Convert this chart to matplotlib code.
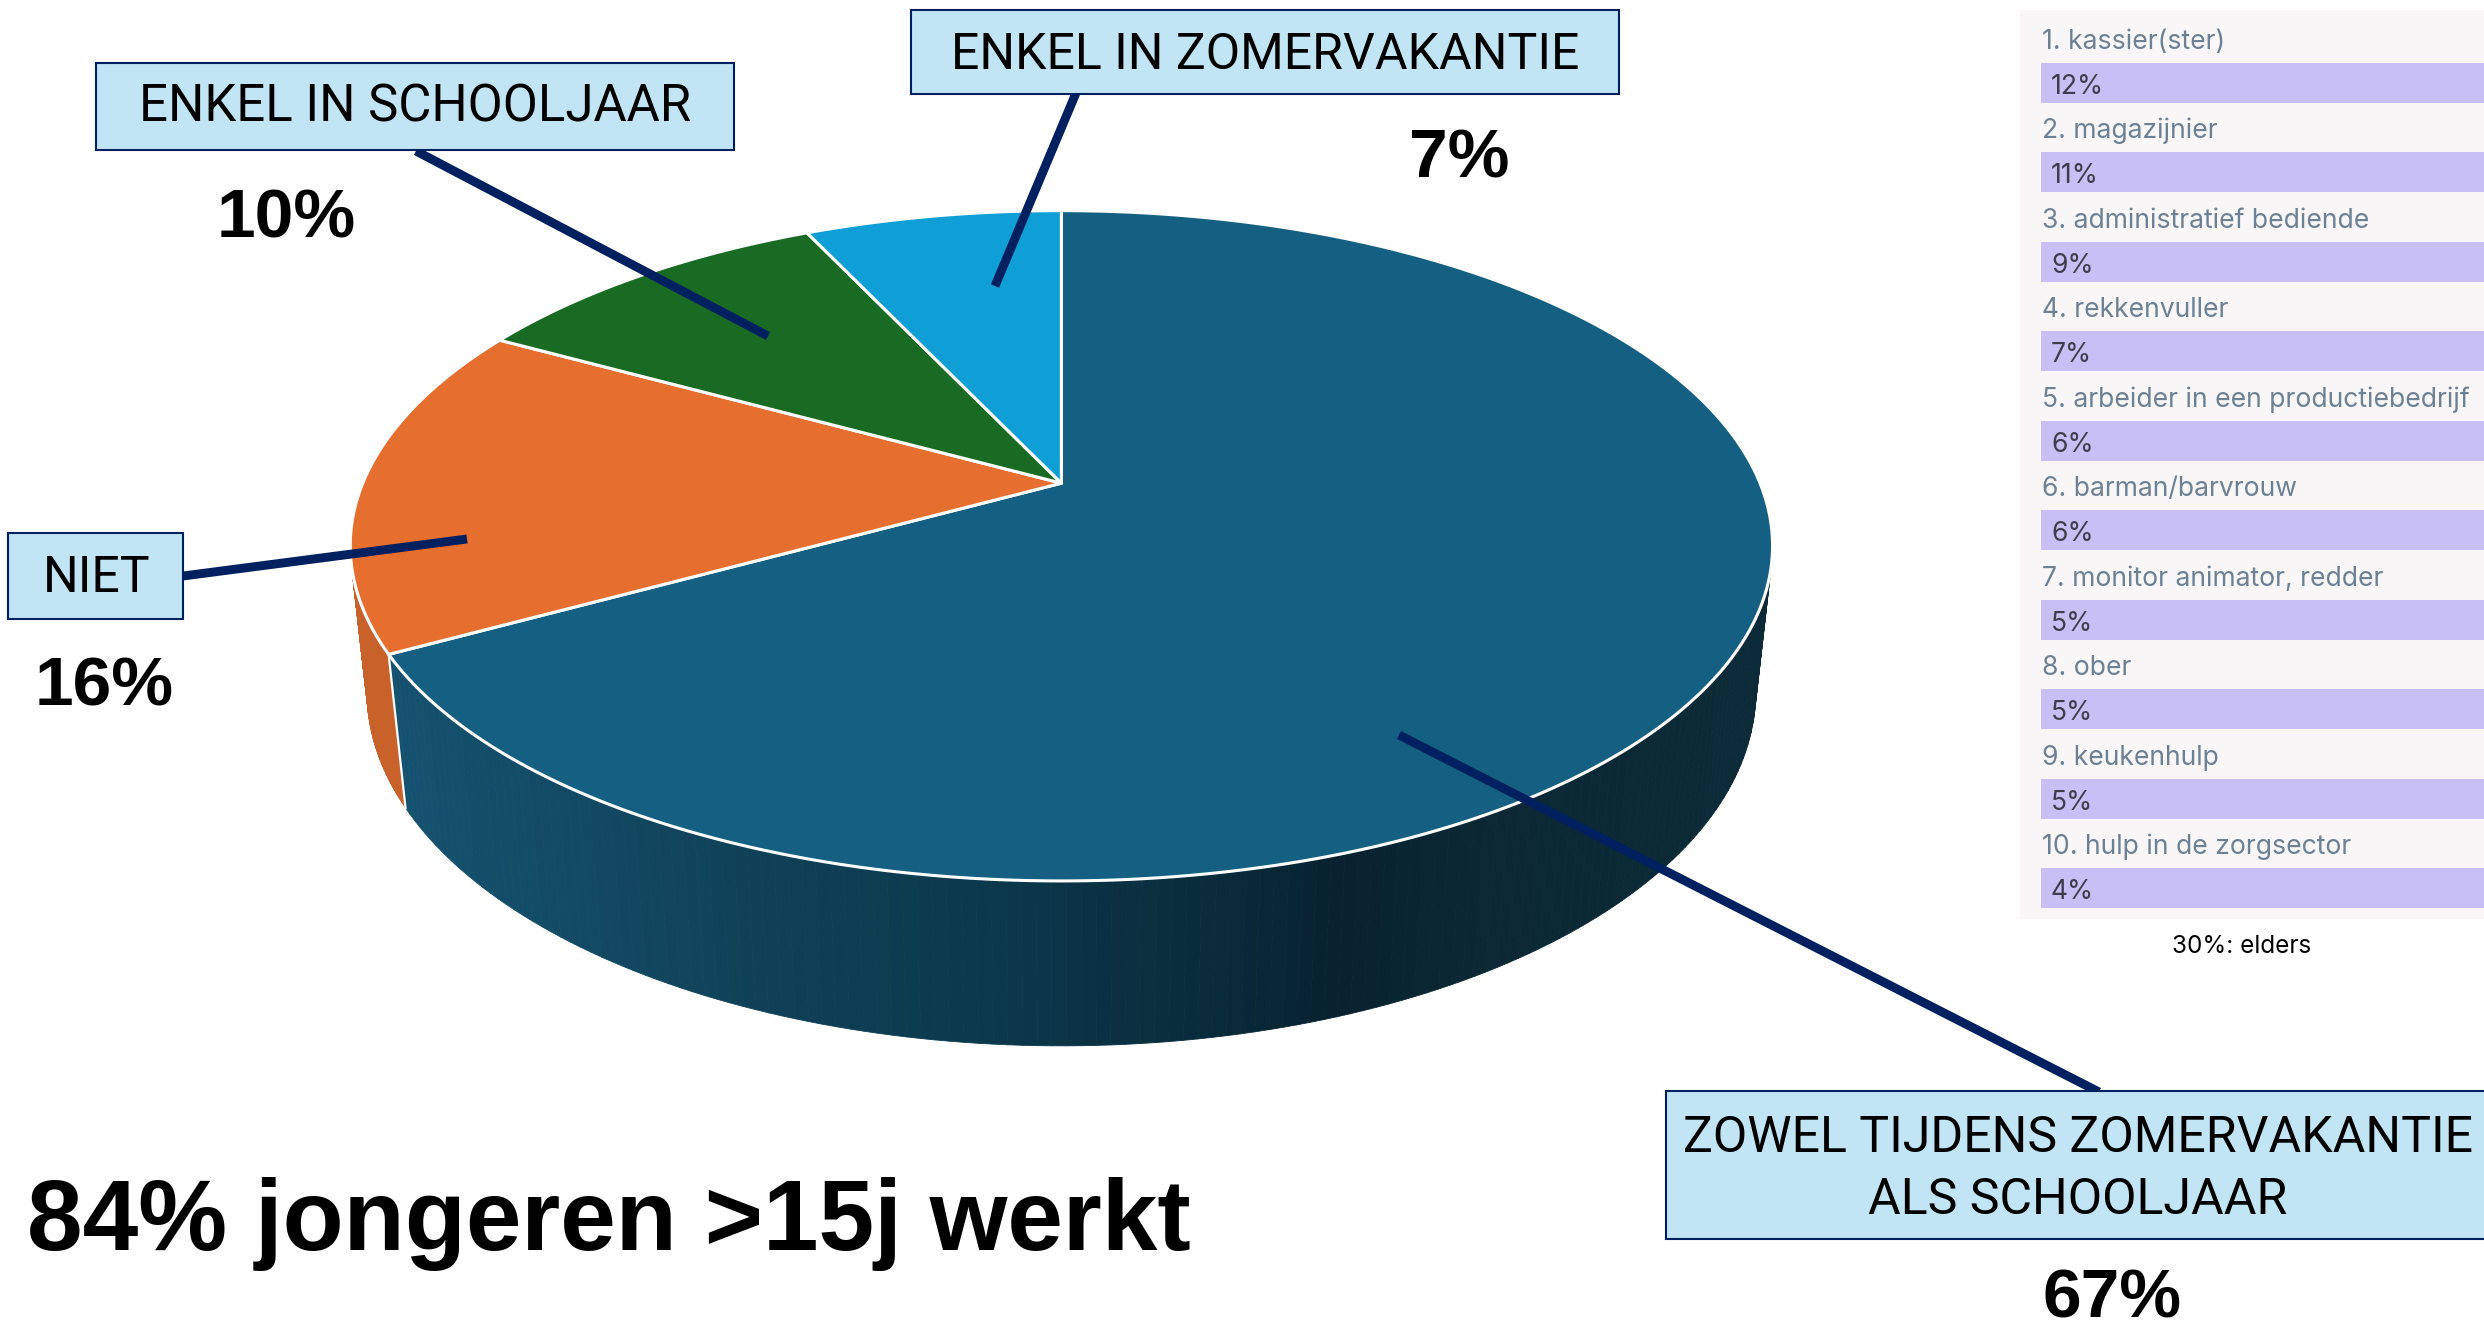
#!/usr/bin/env python
# encoding: utf-8
import numpy as np
import matplotlib
matplotlib.use('Agg')
import matplotlib.pyplot as plt
from matplotlib.collections import PolyCollection
from matplotlib.colors import LinearSegmentedColormap, Normalize

# pie, clockwise from the top
pie_names = ['ZOWEL TIJDENS ZOMERVAKANTIE\nALS SCHOOLJAAR', 'NIET', 'ENKEL IN SCHOOLJAAR', 'ENKEL IN ZOMERVAKANTIE']
pie_values = [67, 16, 10, 7]
pie_colors = ['#156082', '#E66F30', '#196B24', '#0F9ED5']
side_colors = ['#14506C', '#C8622A', '#145A1E', '#0C80AC']

# top 10 list on the right
job_names = ['1. kassier(ster)', '2. magazijnier', '3. administratief bediende', '4. rekkenvuller',
             '5. arbeider in een productiebedrijf', '6. barman/barvrouw', '7. monitor animator, redder',
             '8. ober', '9. keukenhulp', '10. hulp in de zorgsector']
job_values = [12, 11, 9, 7, 6, 6, 5, 5, 5, 4]
title = '84% jongeren >15j werkt'
note = '30%: elders'

S = 2484 / 1568
NAVY = '#002060'
BOX = '#C1E5F5'

# perspective of the disc, fitted on the reference
CX, D, A, B, C, E, F = 670 * S, 441 * S, -147.2 * S, 305 * S, 0.1868, 100.1 * S, 0.0234


def project(theta, h=0.0):
    u, v = np.sin(theta), np.cos(theta)
    w = 1 + C * v + F * h
    return CX + D * u / w, (A * v + B + E * h) / w


fig = plt.figure(figsize=(24.84, 13.22), dpi=100)
ax = fig.add_axes([0, 0, 1, 1])
ax.set_xlim(0, 2484)
ax.set_ylim(1322, 0)
ax.axis('off')

# gradient of the big side wall, by screen x
wall_x = [400, 800, 1000, 1200, 1340, 1500, 1760]
wall_c = ['#15526F', '#0F3F56', '#0C384C', '#092C3C', '#08222F', '#0B2834', '#0C2A37']
norm = Normalize(wall_x[0], wall_x[-1])
wall_cmap = LinearSegmentedColormap.from_list('wall', list(zip([norm(x) for x in wall_x], wall_c)))

edges = np.radians(np.cumsum([0] + pie_values) / sum(pie_values) * 360)

# side walls first, the top face hides the back part
for i in range(len(pie_values)):
    t = np.linspace(edges[i], edges[i + 1], 240)
    x0, y0 = project(t)
    x1, y1 = project(t, 1)
    quads = []
    cols = []
    for k in range(len(t) - 1):
        quads.append([(x0[k], y0[k]), (x0[k + 1], y0[k + 1]), (x1[k + 1], y1[k + 1]), (x1[k], y1[k])])
        cols.append(wall_cmap(norm((x0[k] + x1[k]) / 2)) if i == 0 else side_colors[i])
    ax.add_collection(PolyCollection(quads, facecolors=cols, edgecolors=cols, linewidths=0.6, zorder=2))

# white seam between big wall and orange wall
xa, ya = project(edges[1])
xb, yb = project(edges[1], 1)
ax.plot([xa, xb], [ya, yb], color='white', lw=1.6, zorder=3)

# top face
apex = (CX, B)
for i in range(len(pie_values)):
    t = np.linspace(edges[i], edges[i + 1], 300)
    x0, y0 = project(t)
    pts = [apex] + list(zip(x0, y0))
    ax.fill(*zip(*pts), facecolor=pie_colors[i], edgecolor='white', lw=2.2, joinstyle='round', zorder=4)

# leader lines
leaders = [((416, 151), (768, 336)), ((1076, 93), (995, 286)), ((183, 576), (467, 539)), ((1399, 735), (2099, 1092))]
for p, q in leaders:
    ax.plot([p[0], q[0]], [p[1], q[1]], color=NAVY, lw=6.4, solid_capstyle='butt', zorder=5)

# label boxes
boxes = [(1666, 1091, 2500, 1239), (8, 533, 183, 619), (96, 63, 734, 150), (911, 10, 1619, 94)]
for (x0, y0, x1, y1) in boxes:
    ax.fill([x0, x1, x1, x0], [y0, y0, y1, y1], facecolor=BOX, edgecolor=NAVY, lw=1.5, zorder=6)

lab_pos = [(2078, 1152), (97, 592), (415, 122), (1265, 69)]
lab_size = [36, 36, 36.6, 36]
pct_pos = [(2112, 1317), (104, 706), (286, 238), (1459, 177)]
for i, name in enumerate(pie_names):
    lines = name.split('\n')
    for j, line in enumerate(lines):
        ax.text(lab_pos[i][0], lab_pos[i][1] + j * 62, line, family='Roboto', fontsize=lab_size[i], color='black',
                ha='center', va='baseline', zorder=7)
    ax.text(pct_pos[i][0], pct_pos[i][1], '%d%%' % pie_values[i], family='Liberation Sans', fontweight='bold',
            fontsize=50, color='black', ha='center', va='baseline', zorder=7)

ax.text(27, 1250, title, family='Liberation Sans', fontweight='bold', fontsize=72, color='black',
        ha='left', va='baseline', zorder=7)

# list on the right
ax.fill([2020, 2484, 2484, 2020], [10, 10, 919, 919], facecolor='#F8F6F7', edgecolor='none', zorder=1)
bar_tops = 63 + 89.45 * np.arange(len(job_values))
ax.barh(bar_tops + 20, [443] * len(job_values), height=40, left=2041, color='#C8BFF5', zorder=2)
for i in range(len(job_values)):
    ax.text(2042, bar_tops[i] - 14, job_names[i], family='Inter', fontsize=19.1, color='#6E8094',
            ha='left', va='baseline', zorder=3)
    ax.text(2051, bar_tops[i] + 31, '%d%%' % job_values[i], family='Inter', fontsize=19.1, color='#3F3D4C',
            ha='left', va='baseline', zorder=3)
ax.text(2242, 953, note, family='Inter', fontsize=17.5, color='black', ha='center', va='baseline', zorder=3)

fig.savefig('out.png', dpi=100, facecolor='white')
